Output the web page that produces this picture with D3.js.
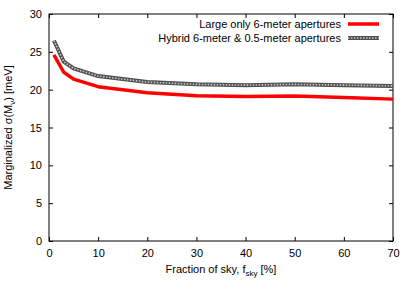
<!DOCTYPE html>
<html><head><meta charset="utf-8">
<script src="https://cdn.jsdelivr.net/npm/d3@7"></script>
<style>body{margin:0;background:#fff}svg{display:block}text{font-family:"Liberation Sans",Arial,sans-serif}</style>
</head><body>
<svg id="c" width="414" height="290"></svg>
<script>
const fsky = [1, 3, 5, 10, 20, 30, 40, 50, 60, 70];
const largeOnly = [24.6, 22.3, 21.4, 20.4, 19.6, 19.2, 19.1, 19.15, 18.95, 18.75];
const hybrid = [26.5, 23.7, 22.8, 21.8, 21.0, 20.7, 20.6, 20.7, 20.6, 20.5];
const xTicks = [0, 10, 20, 30, 40, 50, 60, 70];
const yTicks = [0, 5, 10, 15, 20, 25, 30];
const legendLabels = ["Large only 6-meter apertures", "Hybrid 6-meter & 0.5-meter apertures"];

const svg = d3.select("#c");
const L = 49, R = 393, T = 14, B = 241;
const x = d3.scaleLinear().domain([0, 70]).range([L, R]);
const y = d3.scaleLinear().domain([0, 30]).range([B, T]);
const fs = 11;

const tl = 4;
svg.append("g").attr("transform", `translate(0,${B})`)
  .call(d3.axisBottom(x).tickValues(xTicks).tickSizeInner(-tl).tickSizeOuter(0).tickPadding(8))
  .call(g => g.select(".domain").remove());
svg.append("g").attr("transform", `translate(0,${T})`)
  .call(d3.axisTop(x).tickValues(xTicks).tickSizeInner(-tl).tickSizeOuter(0).tickFormat(""))
  .call(g => g.select(".domain").remove());
svg.append("g").attr("transform", `translate(${L},0)`)
  .call(d3.axisLeft(y).tickValues(yTicks).tickSizeInner(-tl).tickSizeOuter(0).tickPadding(7))
  .call(g => g.select(".domain").remove());
svg.append("g").attr("transform", `translate(${R},0)`)
  .call(d3.axisRight(y).tickValues(yTicks).tickSizeInner(-tl).tickSizeOuter(0).tickFormat(""))
  .call(g => g.select(".domain").remove());
svg.selectAll(".tick text").attr("font-size", fs).attr("font-family", "Liberation Sans, Arial, sans-serif").attr("fill", "#000");
svg.selectAll(".tick line").attr("stroke", "#000");

svg.append("rect").attr("x", L).attr("y", T).attr("width", R - L).attr("height", B - T)
  .attr("fill", "none").attr("stroke", "#000").attr("stroke-width", 1);

const line = d3.line().x((d, i) => x(fsky[i])).y(d => y(d));

svg.append("path").datum(hybrid).attr("d", line).attr("fill", "none")
  .attr("stroke", "#505050").attr("stroke-width", 4);
svg.append("path").datum(hybrid).attr("d", line).attr("fill", "none")
  .attr("stroke", "#c8c8c8").attr("stroke-width", 1.6).attr("stroke-dasharray", "1.5,1.5");
svg.append("path").datum(largeOnly).attr("d", line).attr("fill", "none")
  .attr("stroke", "#ff0000").attr("stroke-width", 3.5).attr("stroke-linejoin", "round");

const lg = svg.append("g");
legendLabels.forEach((t, i) => {
  const yy = 24 + i * 14;
  lg.append("text").attr("x", 341).attr("y", yy).attr("dy", "0.35em")
    .attr("text-anchor", "end").attr("font-size", fs).text(t);
  if (i === 0) {
    lg.append("line").attr("x1", 348).attr("x2", 379).attr("y1", yy).attr("y2", yy)
      .attr("stroke", "#ff0000").attr("stroke-width", 3.5);
  } else {
    lg.append("line").attr("x1", 348).attr("x2", 379).attr("y1", yy).attr("y2", yy)
      .attr("stroke", "#505050").attr("stroke-width", 4);
    lg.append("line").attr("x1", 348).attr("x2", 379).attr("y1", yy).attr("y2", yy)
      .attr("stroke", "#c8c8c8").attr("stroke-width", 1.6).attr("stroke-dasharray", "1.5,1.5");
  }
});

const xt = svg.append("text").attr("x", (L + R) / 2).attr("y", 273).attr("text-anchor", "middle").attr("font-size", fs);
xt.append("tspan").text("Fraction of sky, f");
xt.append("tspan").attr("font-size", 8).attr("dy", 3).text("sky");
xt.append("tspan").attr("dy", -3).text(" [%]");

const yt = svg.append("text").attr("transform", `translate(12,${(T + B) / 2}) rotate(-90)`)
  .attr("text-anchor", "middle").attr("font-size", fs);
yt.append("tspan").text("Marginalized σ(M");
yt.append("tspan").attr("font-size", 8).attr("dy", 3).text("ν");
yt.append("tspan").attr("dy", -3).text(") [meV]");
</script>
</body></html>
